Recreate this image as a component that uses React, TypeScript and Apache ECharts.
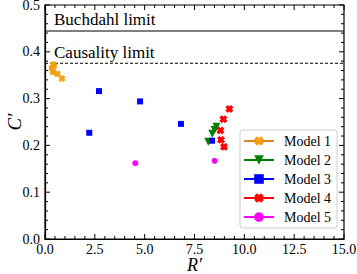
import React, { useEffect, useRef } from "react";
import * as echarts from "echarts";

const model1X = [0.42, 0.45, 0.34, 0.39, 0.62, 0.85];
const model1Y = [0.373, 0.37, 0.365, 0.357, 0.353, 0.343];
const model2X = [8.6, 8.51, 8.39, 8.19];
const model2Y = [0.24, 0.233, 0.225, 0.208];
const model3X = [2.71, 4.77, 2.22, 6.82, 8.38];
const model3Y = [0.316, 0.294, 0.227, 0.246, 0.21];
const model4X = [9.25, 8.95, 8.8, 8.83, 8.98];
const model4Y = [0.278, 0.256, 0.232, 0.212, 0.197];
const model5X = [4.53, 8.51];
const model5Y = [0.162, 0.167];

const buchdahl = 4 / 9;
const causality = 0.3755;
const xRange = [0, 15];
const yRange = [0, 0.5];
const xMajorTicks = [0, 2.5, 5, 7.5, 10, 12.5, 15];
const yMajorTicks = [0, 0.1, 0.2, 0.3, 0.4, 0.5];
const minorPerMajor = 5;

const seriesNames = ["Model 1", "Model 2", "Model 3", "Model 4", "Model 5"];
const markerColors = ["#f5a00f", "#008000", "#0000ff", "#ff0000", "#ff00ff"];
const legendLineColors = ["#d8851a", "#008000", "#0000ff", "#ff0000", "#ff00ff"];

const XSYM = "path://M0,3 L3,0 L5,2 L7,0 L10,3 L8,5 L10,7 L7,10 L5,8 L3,10 L0,7 L2,5 Z";
const TRI = "path://M0,0 L10,0 L5,9 Z";
const symbols = [XSYM, TRI, "rect", XSYM, "circle"];
const sizes = [7, 8, 6, 8, 6];

const FONT = "'Liberation Serif', 'Times New Roman', 'DejaVu Serif', serif";

function withMinor(major: number[]) {
  const out: [number, number][] = [];
  major.forEach((v, i) => {
    out.push([v, 1]);
    if (i < major.length - 1) {
      const step = (major[i + 1] - v) / minorPerMajor;
      for (let k = 1; k < minorPerMajor; k++) out.push([v + step * k, 0]);
    }
  });
  return out;
}

export default function App() {
  const ref = useRef<HTMLDivElement>(null);
  useEffect(() => {
    document.body.style.margin = "0";
    const chart = echarts.init(ref.current!, null, { renderer: "svg" });
    const xs = [model1X, model2X, model3X, model4X, model5X];
    const ys = [model1Y, model2Y, model3Y, model4Y, model5Y];
    const dataSeries = seriesNames.map((name, i) => ({
      name,
      type: "line",
      data: xs[i].map((x, j) => [x, ys[i][j]]),
      symbol: symbols[i],
      symbolSize: sizes[i],
      lineStyle: { opacity: 0, width: 0 },
      itemStyle: { color: markerColors[i] },
      z: 5,
    }));
    const tickStyle = { stroke: "#000", lineWidth: 1 };
    const xTickData = withMinor(xMajorTicks).map(([v, m]) => [v, yRange[0], m]);
    const yTickData = withMinor(yMajorTicks).map(([v, m]) => [xRange[0], v, m]);
    const xTickSeries = {
      type: "custom",
      silent: true,
      clip: false,
      z: 6,
      data: xTickData,
      encode: { x: 0, y: 1 },
      renderItem: (params: any, api: any) => {
        const v = api.value(0);
        const len = api.value(2) ? 5 : 3;
        const b = api.coord([v, yRange[0]]);
        const t = api.coord([v, yRange[1]]);
        return {
          type: "group",
          children: [
            { type: "line", shape: { x1: b[0], y1: b[1], x2: b[0], y2: b[1] - len }, style: tickStyle },
            { type: "line", shape: { x1: t[0], y1: t[1], x2: t[0], y2: t[1] + len }, style: tickStyle },
          ],
        };
      },
    };
    const yTickSeries = {
      type: "custom",
      silent: true,
      clip: false,
      z: 6,
      data: yTickData,
      encode: { x: 0, y: 1 },
      renderItem: (params: any, api: any) => {
        const v = api.value(1);
        const len = api.value(2) ? 5 : 3;
        const l = api.coord([xRange[0], v]);
        const r = api.coord([xRange[1], v]);
        return {
          type: "group",
          children: [
            { type: "line", shape: { x1: l[0], y1: l[1], x2: l[0] + len, y2: l[1] }, style: tickStyle },
            { type: "line", shape: { x1: r[0], y1: r[1], x2: r[0] - len, y2: r[1] }, style: tickStyle },
          ],
        };
      },
    };
    chart.setOption({
      animation: false,
      grid: {
        left: 45,
        top: 5,
        right: 13,
        bottom: 35,
        containLabel: false,
        outerBoundsMode: "none",
        show: true,
        borderColor: "#000",
        borderWidth: 1.2,
        backgroundColor: "transparent",
      },
      xAxis: {
        type: "value",
        min: xRange[0],
        max: xRange[1],
        interval: 2.5,
        axisLine: { show: true, onZero: false, lineStyle: { color: "#000", width: 1.2 } },
        axisTick: { show: false },
        minorTick: { show: false },
        splitLine: { show: false },
        axisLabel: {
          color: "#000",
          fontFamily: FONT,
          fontSize: 14,
          margin: 3,
          formatter: (v: number) => v.toFixed(1),
        },
        name: "R′",
        nameLocation: "middle",
        nameGap: 17,
        nameMoveOverlap: false,
        nameTextStyle: { fontFamily: FONT, fontStyle: "italic", fontSize: 18, color: "#000" },
      },
      yAxis: {
        type: "value",
        min: yRange[0],
        max: yRange[1],
        interval: 0.1,
        axisLine: { show: true, onZero: false, lineStyle: { color: "#000", width: 1.2 } },
        axisTick: { show: false },
        minorTick: { show: false },
        splitLine: { show: false },
        axisLabel: {
          color: "#000",
          fontFamily: FONT,
          fontSize: 14,
          margin: 5,
          formatter: (v: number) => v.toFixed(1),
        },
        name: "C′",
        nameLocation: "middle",
        nameRotate: 90,
        nameGap: 21,
        nameMoveOverlap: false,
        nameTextStyle: { fontFamily: FONT, fontStyle: "italic", fontSize: 19, color: "#000" },
      },
      legend: {
        orient: "vertical",
        left: 240,
        top: 130,
        padding: [4, 6, 4, 3],
        itemGap: 5,
        itemWidth: 30,
        itemHeight: 12,
        backgroundColor: "#fff",
        borderColor: "#ccc",
        borderWidth: 1,
        borderRadius: 3,
        textStyle: { fontFamily: FONT, fontSize: 14, color: "#000", lineHeight: 14, padding: [0, 0, 0, 5] },
        data: seriesNames.map((name, i) => ({
          name,
          lineStyle: { color: legendLineColors[i], width: 2, opacity: 1 },
        })),
      },
      series: [
        ...dataSeries,
        {
          name: "Buchdahl limit",
          type: "line",
          data: [[xRange[0], buchdahl], [xRange[1], buchdahl]],
          symbol: "none",
          lineStyle: { color: "#000", width: 1.2 },
          z: 3,
        },
        {
          name: "Causality limit",
          type: "line",
          data: [[xRange[0], causality], [xRange[1], causality]],
          symbol: "none",
          lineStyle: { color: "#000", width: 1, type: [3, 2] },
          z: 3,
        },
        xTickSeries,
        yTickSeries,
      ],
      graphic: [
        {
          type: "text",
          left: 54,
          top: 11,
          style: { text: "Buchdahl limit", fontFamily: FONT, fontSize: 17, fill: "#000" },
        },
        {
          type: "text",
          left: 54,
          top: 44,
          style: { text: "Causality limit", fontFamily: FONT, fontSize: 17, fill: "#000" },
        },
      ],
    });
    return () => chart.dispose();
  }, []);
  return <div ref={ref} style={{ width: 357, height: 274 }} />;
}
